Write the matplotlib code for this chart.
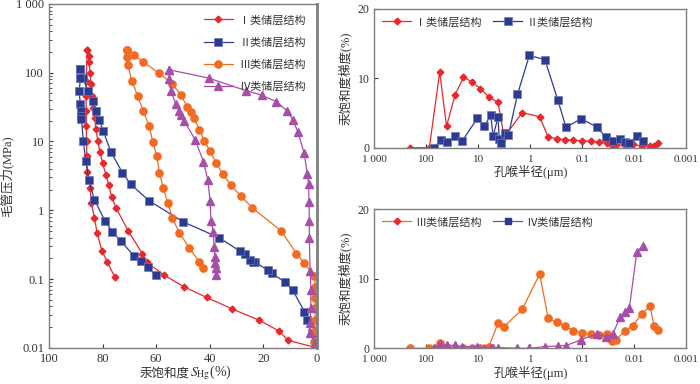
import matplotlib
matplotlib.use("Agg")
import matplotlib.pyplot as plt
from matplotlib.lines import Line2D
from matplotlib.ticker import FixedLocator, LogLocator, NullFormatter, NullLocator

plt.rcParams['font.family'] = ['Liberation Serif', 'Noto Sans CJK SC', 'DejaVu Sans']
plt.rcParams['mathtext.fontset'] = 'stix'

# ---------------- Left panel data: capillary pressure curves ----------------
# Type I (injection then withdrawal)
s1_inj = [0, 10.9, 14.1, 21.5, 31.6, 41.2, 49.7, 57.0, 63.5, 65.2, 70.4, 75.0, 76.6, 77.7, 78.8,
          80.0, 81.0, 81.8, 82.5, 83.0, 83.5, 84.0, 84.4, 84.7, 85.0, 85.1, 85.7]
p1_inj = [0.01, 0.0129, 0.0175, 0.0252, 0.0367, 0.0542, 0.0774, 0.114, 0.175, 0.235, 0.50, 1.08, 1.56,
          2.3, 3.3, 4.85, 7.0, 10.3, 15, 22, 31, 46, 68, 99, 144, 176, 213]
s1_wd = [85.7, 86.2, 86.2, 86.1, 86.1, 86.0, 85.9, 85.7, 84.7, 84.2, 83.1, 82.0, 80.3, 78.2, 75.5]
p1_wd = [213, 76, 46, 28, 16.5, 10, 6.1, 3.55, 2.13, 1.28, 0.78, 0.46, 0.26, 0.175, 0.108]

# Type II
s2_inj = [0, 2.0, 3.8, 4.7, 9.1, 12.1, 16.9, 18.5, 23.0, 24.0, 25.0, 27.0, 28.9, 36.6, 49.9, 62.6,
          69.5, 72.6, 76.9, 79.7, 81.3, 82.5, 83.7, 85.3, 87.4, 88.3]
p2_inj = [0.01, 0.0167, 0.0257, 0.0336, 0.069, 0.0914, 0.121, 0.135, 0.175, 0.18, 0.19, 0.23, 0.257,
          0.40, 0.677, 1.37, 2.38, 3.52, 7.0, 14, 20.8, 28.1, 38.4, 54.8, 82.8, 112]
s2_wd = [88.3, 88.3, 88.7, 88.4, 88.2, 88.1, 87.9, 87.2, 86.3, 85.1, 83.1, 79.1, 76.4, 73.2, 68.2,
         65.8, 63.2, 60.2]
p2_wd = [112, 83.8, 54.8, 35.2, 28.1, 23.8, 21.3, 10.3, 5.18, 2.72, 1.43, 0.70, 0.49, 0.355, 0.216,
         0.184, 0.148, 0.113]

# Type III
s3_inj = [0, 1.2, 0.8, 0.8, 0.7, 0.7, 0.7, 1.0, 4.7, 7.7, 13.4, 24.1, 28.4, 32.1, 35.2, 37.7, 39.9,
          42.1, 43.9, 45.9, 47.1, 48.4, 50.9, 54.0, 59.0, 65.0, 68.2, 71.0]
p3_inj = [0.01, 0.0123, 0.0177, 0.0255, 0.0376, 0.054, 0.077, 0.112, 0.169, 0.235, 0.50, 1.08, 1.6,
          2.3, 3.4, 4.9, 7.2, 10.3, 14.9, 21.8, 27.2, 32, 47.5, 68.6, 99, 144, 180, 213]
s3_wd = [71.0, 71.0, 70.6, 69.1, 66.9, 64.8, 62.6, 61.3, 59.8, 58.8, 57.4, 55.7, 54.0, 51.4, 47.7,
         43.9, 42.6]
p3_wd = [213, 167, 129, 76.6, 45.4, 27.5, 16.5, 9.9, 6.06, 3.47, 2.13, 1.29, 0.774, 0.475, 0.284,
         0.178, 0.146]

# Type IV
s4_inj = [0.8, 2.7, 2.6, 2.4, 2.3, 2.6, 2.9, 2.9, 3.0, 3.2, 3.6, 4.9, 7.2, 9.1, 11.1, 15.3, 20.6,
          26.5, 40.4, 55.1]
p4_inj = [0.0117, 0.0163, 0.0228, 0.0376, 0.069, 0.13, 0.39, 0.70, 1.32, 2.43, 3.4, 6.9, 13.9, 20.8,
          27.7, 38, 47, 54.8, 83.3, 110]
s4_wd = [55.1, 55.1, 54.5, 52.7, 51.5, 50.7, 49.5, 45.5, 42.4, 40.8, 39.9, 39.6, 38.7, 38.4, 38.1,
         38.1, 37.8, 37.8]
p4_wd = [110, 81, 53.6, 35.2, 28.1, 24.3, 19.7, 10.6, 5.1, 2.8, 1.36, 0.70, 0.485, 0.294, 0.211,
         0.172, 0.143, 0.114]

# ---------------- Right panels data: saturation gradient vs pore radius ----------------
r_a = [202, 87.5, 55.3, 40.9, 28.1, 19.3, 13.3, 9.14, 6.27, 4.2, 3.2, 1.43, 0.664, 0.457, 0.314,
       0.216, 0.149, 0.101, 0.069, 0.049, 0.0337, 0.0275, 0.0229, 0.0153, 0.0107, 0.0073, 0.005,
       0.0042, 0.00347]
g1 = [0, 0, 10.9, 3.1, 7.55, 10.2, 9.48, 8.5, 7.33, 6.52, 1.55, 5.05, 4.47, 1.55, 1.3, 1.18, 1.06,
      0.97, 0.92, 0.80, 0.63, 0.39, 0.39, 0.43, 0.48, 0.24, 0.24, 0.24, 0.72]
g3 = [0, 0, 0.72, 0, 0, 0, 0, 0, 0.24, 3.59, 3.11, 5.6, 10.67, 4.4, 3.73, 3.2, 2.53, 2.2, 2.06,
      1.92, 2.01, 1.1, 1.2, 2.49, 3.25, 4.93, 6.03, 3.25, 2.63]
r_b = [72.6, 52.1, 40.9, 28.1, 20.5, 10.4, 7.69, 5.76, 5.21, 4.2, 3.97, 3.69, 3.06, 2.64, 1.77,
       1.05, 0.527, 0.297, 0.207, 0.105, 0.0528, 0.0351, 0.026, 0.019, 0.0153, 0.0125, 0.009,
       0.0069]
g2 = [0, 1.1, 0.85, 1.62, 0.95, 4.26, 3.06, 4.7, 1.62, 4.4, 1.3, 0.74, 2.1, 1.83, 7.67, 13.3, 12.7,
      6.88, 2.94, 4.19, 2.94, 1.5, 1.0, 1.23, 0.8, 0.65, 1.71, 1.0]
r_c = [72.6, 55.3, 40.9, 28.1, 20.5, 10.4, 7.69, 5.76, 5.21, 4.2, 1.77, 1.05, 0.527, 0.297, 0.207,
       0.105, 0.0528, 0.0351, 0.026, 0.019, 0.0153, 0.0125, 0.009, 0.0069]
g4 = [0, 0.67, 0.43, 0.43, 0.24, 0.24, 0.1, 0.1, 0, 0.1, 0, 0, 0.24, 0.33, 0.38, 1.24, 2.1, 1.67,
      2.06, 4.45, 5.17, 5.84, 13.87, 14.73]

labels = ['Ⅰ类储层结构', 'Ⅱ类储层结构', 'Ⅲ类储层结构', 'Ⅳ类储层结构']
c_red, c_blue, c_orange, c_purple = '#e8282b', '#2c3b8f', '#f26b21', '#a74ea8'
spine_c = '#7f7f7f'
text_c = '#333333'
fs = 8
tfs = 8.5

fig = plt.figure(figsize=(7.0, 3.84), dpi=100)

# ---------------- Left panel ----------------
ax = fig.add_axes([0.070, 0.094, 0.383, 0.896])
ax.set_yscale('log')
ax.plot(s1_inj, p1_inj, color=c_red, lw=0.9, marker='D', ms=3.4, mec=c_red, mfc=c_red, label=labels[0])
ax.plot(s1_wd, p1_wd, color=c_red, lw=0.9, marker='D', ms=3.4, mec=c_red, mfc=c_red)
ax.plot(s2_inj, p2_inj, color=c_blue, lw=0.9, marker='s', ms=5.2, mec='#6d78b8', mfc=c_blue, mew=0.5, label=labels[1])
ax.plot(s2_wd, p2_wd, color=c_blue, lw=0.9, marker='s', ms=5.2, mec='#6d78b8', mfc=c_blue, mew=0.5)
ax.plot(s3_inj, p3_inj, color=c_orange, lw=0.9, marker='o', ms=5.2, mec=c_orange, mfc=c_orange, label=labels[2])
ax.plot(s3_wd, p3_wd, color=c_orange, lw=0.9, marker='o', ms=5.2, mec=c_orange, mfc=c_orange)
ax.plot(s4_inj, p4_inj, color=c_purple, lw=0.9, marker='^', ms=5.2, mec=c_purple, mfc=c_purple, label=labels[3])
ax.plot(s4_wd, p4_wd, color=c_purple, lw=0.9, marker='^', ms=5.2, mec=c_purple, mfc=c_purple)
ax.set_xlim(100, 0)
ax.set_ylim(0.01, 1000)
ax.set_xticks([100, 80, 60, 40, 20, 0])
ax.set_yticks([0.01, 0.1, 1, 10, 100, 1000])
ax.set_yticklabels(['0.01', '0.1', '1', '10', '100', '1 000'])
ax.yaxis.set_minor_locator(LogLocator(base=10, subs=range(2, 10), numticks=20))
ax.yaxis.set_minor_formatter(NullFormatter())
ax.tick_params(which='both', direction='in', labelsize=tfs + 0.5, colors=text_c, length=3)
ax.tick_params(which='minor', length=1.8)
for sp in ax.spines.values():
    sp.set_color(spine_c)
    sp.set_linewidth(1.0)
ax.spines['right'].set_linewidth(2.0)
ax.set_ylabel('毛管压力(MPa)', fontsize=9, color=text_c, labelpad=2)
# x label: CJK part and math part as two adjacent texts
ax.annotate('汞饱和度', xy=(0.525, -0.072), xycoords='axes fraction', ha='right', va='center',
            fontsize=9, color=text_c, family=['Noto Sans CJK SC'])
ax.annotate(r'$\mathit{S}_{\mathrm{Hg}}$(%)', xy=(0.527, -0.072), xycoords='axes fraction', ha='left',
            va='center', fontsize=10, color=text_c)
leg = ax.legend(loc='upper right', frameon=False, fontsize=fs, labelspacing=1.05, handlelength=2.6,
                borderaxespad=0.6, handletextpad=0.6)
for t in leg.get_texts():
    t.set_color(text_c)

# ---------------- Right panels ----------------
def style_right(a):
    a.set_xscale('log')
    a.set_xlim(1000, 0.001)
    a.set_ylim(0, 20)
    a.xaxis.set_major_locator(FixedLocator([1000, 100, 10, 1, 0.1, 0.01, 0.001]))
    a.set_xticklabels(['1 000', '100', '10', '1', '0.1', '0.01', '0.001'])
    a.xaxis.set_minor_locator(NullLocator())
    a.set_yticks([0, 10, 20])
    a.tick_params(direction='in', labelsize=tfs, colors=text_c, length=3)
    a.tick_params(axis='x', pad=5, labelsize=8)
    for sp in a.spines.values():
        sp.set_color(spine_c)
        sp.set_linewidth(1.0)
    a.set_xlabel('孔喉半径(μm)', fontsize=9, color=text_c, labelpad=1)
    a.set_ylabel('汞饱和度梯度(%)', fontsize=9, color=text_c, labelpad=4)

ax1 = fig.add_axes([0.5347, 0.6154, 0.446, 0.3612])
style_right(ax1)
ax1.plot(r_a, g1, color=c_red, lw=0.9, marker='D', ms=3.4, mec=c_red, mfc=c_red, label=labels[0])
ax1.plot(r_b, g2, color=c_blue, lw=0.9, marker='s', ms=5.2, mec='#6d78b8', mfc=c_blue, mew=0.5, label=labels[1])
lg1 = ax1.legend(loc='upper left', ncol=2, frameon=False, fontsize=fs, handlelength=2.6,
                 columnspacing=1.0, handletextpad=0.4, borderaxespad=0.3)
for t in lg1.get_texts():
    t.set_color(text_c)

ax2 = fig.add_axes([0.5347, 0.0930, 0.446, 0.3627])
style_right(ax2)
ax2.plot(r_a, g3, color=c_orange, lw=0.9, marker='o', ms=5.2, mec=c_orange, mfc=c_orange)
ax2.plot(r_c, g4, color=c_purple, lw=0.9, marker='^', ms=5.2, mec=c_purple, mfc=c_purple)
h3 = Line2D([], [], color=c_orange, lw=0.9, marker='D', ms=3.4, mec=c_red, mfc=c_red)
h4 = Line2D([], [], color='#6a55a8', lw=0.9, marker='s', ms=4, mec=c_blue, mfc=c_blue)
lg2 = ax2.legend([h3, h4], labels[2:], loc='upper left', ncol=2, frameon=False, fontsize=fs,
                 handlelength=2.6, columnspacing=1.0, handletextpad=0.4, borderaxespad=0.3)
for t in lg2.get_texts():
    t.set_color(text_c)

fig.savefig('out.png', dpi=100)
